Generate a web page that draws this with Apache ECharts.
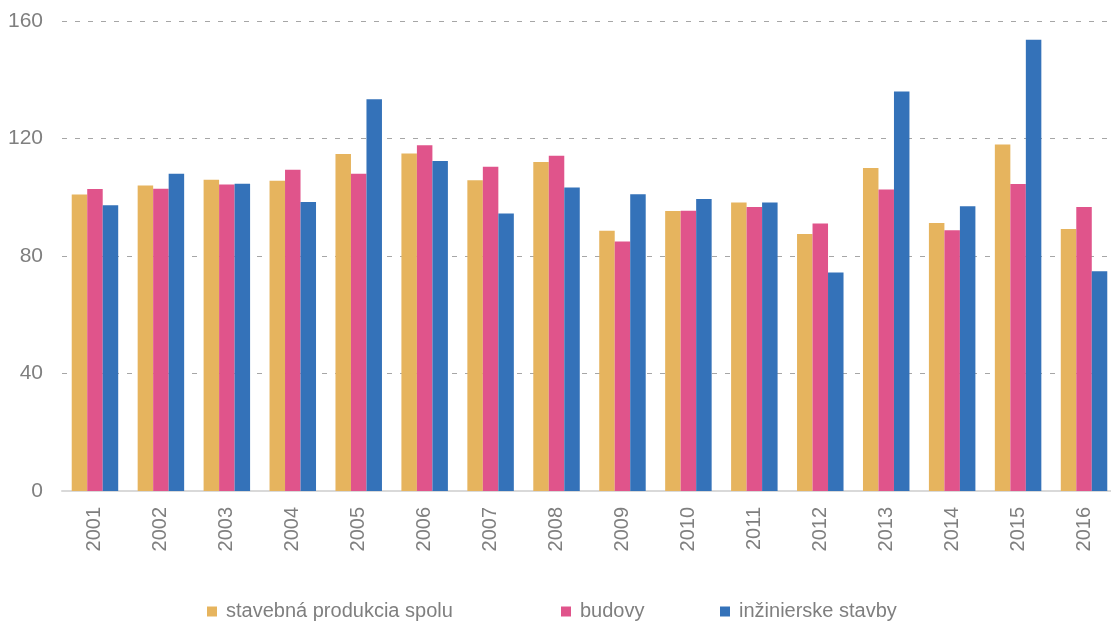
<!DOCTYPE html>
<html>
<head>
	<meta charset="utf-8">
	<title>Stavebná produkcia</title>
	<script src="https://cdn.jsdelivr.net/npm/echarts@6/dist/echarts.min.js"></script>
	<style type="text/css">
		html, body { margin: 0; padding: 0; background-color: #fff; overflow: hidden; }
		#chartBox { width: 1120px; height: 622px; }
	</style>
</head>
<body>
<div id="chartBox"></div>
<script>
	// roky
	var years = ['2001', '2002', '2003', '2004', '2005', '2006', '2007', '2008',
		'2009', '2010', '2011', '2012', '2013', '2014', '2015', '2016'];
	// hodnoty odčítané z grafu
	var spolu = [100.9, 104.0, 106.0, 105.6, 114.7, 114.9, 105.8, 112.0, 88.6, 95.3, 98.2, 87.5, 110.0, 91.2, 118.0, 89.2];
	var budovy = [102.8, 102.9, 104.3, 109.4, 108.0, 117.7, 110.4, 114.1, 84.9, 95.4, 96.7, 91.1, 102.6, 88.8, 104.5, 96.7];
	var inzinierske = [97.3, 108.0, 104.6, 98.4, 133.4, 112.3, 94.5, 103.3, 101.0, 99.4, 98.2, 74.4, 136.0, 96.9, 153.6, 74.8];
	var seriesNames = ['stavebná produkcia spolu', 'budovy', 'inžinierske stavby'];
	var yTicks = [0, 40, 80, 120, 160];

	var colors = ['#E6B45E', '#E0548B', '#3472B9'];
	var font = '"Liberation Sans", Arial, sans-serif';

	var chart = echarts.init(document.getElementById('chartBox'));

	// legenda - tri samostatné položky
	function legendAt(name, left) {
		return {
			data: [name],
			left: left,
			top: 601,
			icon: 'rect',
			itemWidth: 10,
			itemHeight: 10,
			itemGap: 0,
			padding: 0,
			textStyle: { color: '#7f7f7f', fontSize: 20, lineHeight: 21, fontFamily: font, padding: [0, 0, 0, 4] }
		};
	}

	var options = {
		animation: false,
		color: colors,
		textStyle: { fontFamily: font },
		legend: [
			legendAt(seriesNames[0], 207),
			legendAt(seriesNames[1], 561),
			legendAt(seriesNames[2], 720)
		],
		grid: { left: 62, right: 3, top: 21, bottom: 131, containLabel: false },
		xAxis: [{
			type: 'category',
			data: years,
			axisTick: { show: false },
			axisLine: { lineStyle: { color: '#d9d9d9', width: 2 } },
			axisLabel: { rotate: 90, color: '#7f7f7f', fontSize: 20, fontFamily: font, margin: 16 }
		}],
		yAxis: [{
			type: 'value',
			min: yTicks[0],
			max: yTicks[yTicks.length - 1],
			interval: 40,
			axisLine: { show: false },
			axisTick: { show: false },
			axisLabel: { color: '#7f7f7f', fontSize: 21, fontFamily: font, margin: 19 },
			splitLine: { lineStyle: { color: '#a6a6a6', type: [5, 8], width: 1 } }
		}],
		series: [
			{ name: seriesNames[0], type: 'bar', data: spolu, barGap: '0%', barCategoryGap: '29.5%' },
			{ name: seriesNames[1], type: 'bar', data: budovy, barGap: '0%', barCategoryGap: '29.5%' },
			{ name: seriesNames[2], type: 'bar', data: inzinierske, barGap: '0%', barCategoryGap: '29.5%' }
		]
	};
	chart.setOption(options);
</script>
</body>
</html>
